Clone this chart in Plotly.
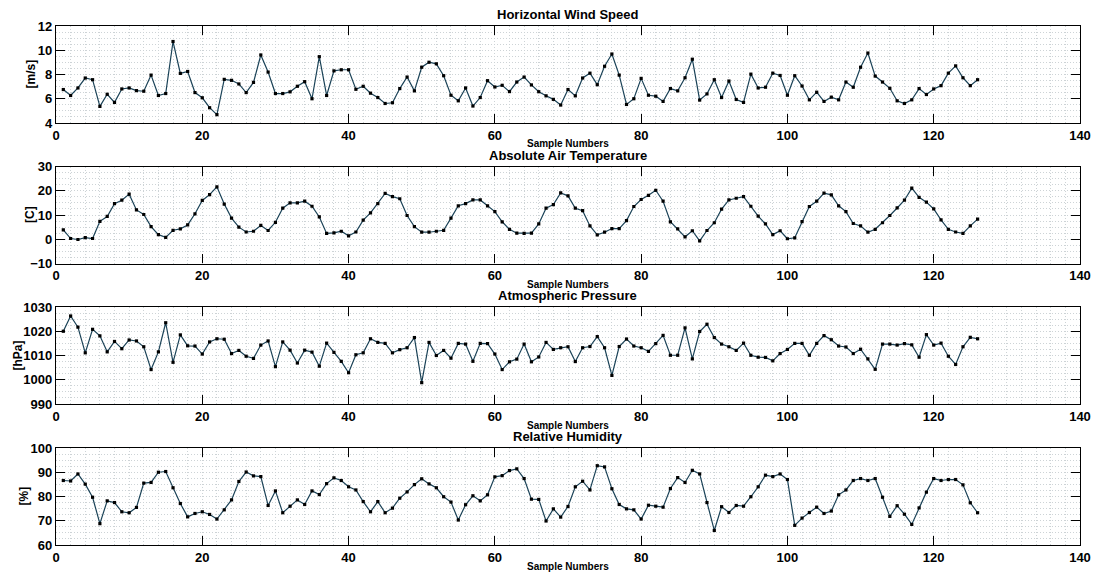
import plotly.graph_objects as go

W, H = 1094, 574

sample = list(range(1, 127))

wind_speed = [
    6.76, 6.27, 6.89, 7.71, 7.57, 5.37, 6.37, 5.70, 6.81, 6.89,
    6.67, 6.62, 7.95, 6.27, 6.43, 10.72, 8.09, 8.25, 6.51, 6.08,
    5.26, 4.69, 7.60, 7.52, 7.22, 6.51, 7.35, 9.61, 8.20, 6.43,
    6.43, 6.57, 7.03, 7.41, 6.00, 9.47, 6.27, 8.30, 8.39, 8.39,
    6.78, 7.03, 6.46, 6.10, 5.61, 5.67, 6.84, 7.79, 6.65, 8.60,
    9.01, 8.88, 7.90, 6.29, 5.83, 6.89, 5.40, 6.10, 7.49, 6.97,
    7.11, 6.59, 7.38, 7.79, 7.14, 6.58, 6.24, 5.95, 5.48, 6.76,
    6.24, 7.71, 8.11, 7.16, 8.68, 9.69, 7.95, 5.53, 6.00, 7.68,
    6.29, 6.21, 5.78, 6.84, 6.65, 7.73, 9.26, 5.89, 6.40, 7.57,
    6.10, 7.46, 5.94, 5.70, 8.03, 6.89, 6.95, 8.11, 7.92, 6.29,
    7.90, 7.05, 5.91, 6.54, 5.78, 6.13, 5.91, 7.38, 6.95, 8.60,
    9.77, 7.87, 7.38, 6.86, 5.83, 5.61, 5.91, 6.84, 6.35, 6.81,
    7.08, 8.11, 8.71, 7.73, 7.08, 7.57,
]

air_temperature = [
    3.9, 0.3, -0.1, 0.7, 0.3, 7.4, 9.4, 14.7, 16.1, 18.6,
    12.1, 10.2, 5.2, 1.9, 0.8, 3.7, 4.3, 5.9, 10.5, 16.0,
    18.4, 21.6, 14.5, 8.7, 5.0, 3.0, 3.3, 5.7, 3.6, 7.0,
    12.8, 15.0, 15.0, 15.7, 13.6, 9.2, 2.4, 2.6, 3.3, 1.4,
    3.0, 7.9, 10.9, 14.7, 18.9, 17.6, 16.7, 9.8, 5.2, 2.9,
    2.9, 3.3, 3.7, 8.7, 13.8, 14.7, 16.2, 16.2, 13.8, 11.4,
    7.2, 4.1, 2.5, 2.4, 2.5, 6.3, 12.8, 14.3, 19.1, 17.9,
    12.8, 11.8, 5.5, 1.8, 2.9, 4.4, 4.4, 7.7, 13.5, 16.4,
    18.1, 20.2, 15.7, 7.2, 4.3, 1.0, 3.5, -0.7, 3.6, 6.8,
    12.4, 16.2, 16.9, 17.6, 13.6, 9.5, 6.3, 1.9, 3.5, 0.2,
    0.6, 7.3, 13.5, 15.7, 19.0, 18.3, 13.8, 11.4, 6.5, 5.5,
    2.9, 4.1, 6.8, 9.8, 12.9, 16.1, 21.1, 17.3, 15.3, 12.5,
    8.0, 4.1, 3.0, 2.4, 5.5, 8.3,
]

pressure = [
    1020.0, 1026.3, 1021.7, 1011.1, 1020.8, 1018.1, 1011.5, 1015.8, 1012.8, 1016.4,
    1016.0, 1013.6, 1004.2, 1011.5, 1023.5, 1007.2, 1018.5, 1014.0, 1013.9, 1010.6,
    1015.6, 1016.9, 1016.7, 1010.8, 1012.1, 1009.7, 1008.8, 1014.3, 1016.0, 1005.4,
    1015.6, 1012.2, 1006.9, 1012.2, 1011.4, 1005.6, 1015.1, 1011.3, 1007.6, 1002.9,
    1010.3, 1011.1, 1016.9, 1015.4, 1015.0, 1011.1, 1012.4, 1013.2, 1017.4, 998.8,
    1015.4, 1010.0, 1012.1, 1008.9, 1015.0, 1014.7, 1007.6, 1015.0, 1014.9, 1010.6,
    1004.2, 1007.4, 1008.5, 1014.7, 1007.4, 1009.4, 1015.4, 1012.5, 1013.2, 1013.6,
    1007.5, 1013.2, 1013.7, 1017.8, 1013.2, 1001.8, 1013.7, 1016.8, 1013.9, 1013.2,
    1011.7, 1014.9, 1018.3, 1010.1, 1010.1, 1021.4, 1008.6, 1019.9, 1022.9, 1017.4,
    1014.7, 1013.6, 1012.1, 1015.1, 1010.1, 1009.3, 1009.2, 1007.8, 1010.8, 1012.5,
    1015.0, 1015.0, 1010.1, 1015.0, 1018.2, 1016.5, 1013.9, 1013.5, 1010.8, 1012.6,
    1008.6, 1004.3, 1014.7, 1014.7, 1014.3, 1014.9, 1014.4, 1009.3, 1018.6, 1014.3,
    1015.1, 1009.7, 1006.3, 1013.6, 1017.5, 1016.9,
]

humidity = [
    86.6, 86.4, 89.3, 85.1, 79.7, 68.8, 78.2, 77.5, 73.7, 73.3,
    75.5, 85.5, 85.8, 90.0, 90.3, 83.6, 77.1, 71.6, 73.0, 73.7,
    72.6, 70.7, 74.5, 78.6, 86.2, 90.1, 88.5, 88.2, 76.3, 82.3,
    73.3, 76.0, 78.6, 76.7, 82.3, 80.8, 85.3, 87.7, 86.6, 84.0,
    82.7, 77.9, 73.7, 77.9, 73.3, 75.2, 79.3, 81.9, 84.9, 87.3,
    85.2, 83.6, 79.9, 77.7, 70.3, 76.6, 80.3, 78.2, 80.7, 88.1,
    88.6, 90.7, 91.4, 87.4, 78.9, 78.8, 69.9, 74.9, 71.5, 75.9,
    84.0, 86.3, 82.7, 92.7, 92.2, 83.2, 76.7, 74.9, 74.5, 70.7,
    76.4, 76.0, 75.6, 83.3, 87.8, 85.8, 90.8, 89.3, 77.5, 66.0,
    75.8, 73.4, 76.3, 76.0, 79.9, 84.0, 88.8, 88.2, 89.3, 87.0,
    68.1, 71.1, 73.4, 75.6, 73.0, 74.0, 80.7, 82.7, 86.6, 87.4,
    86.6, 87.4, 79.7, 71.8, 76.2, 72.7, 68.5, 75.3, 81.8, 87.4,
    86.6, 87.0, 87.0, 84.8, 77.4, 73.3,
]

titles = ["Horizontal Wind Speed", "Absolute Air Temperature",
          "Atmospheric Pressure", "Relative Humidity"]
units = ["[m/s]", "[C]", "[hPa]", "[%]"]
series = [wind_speed, air_temperature, pressure, humidity]
y_ranges = [(4, 12), (-10, 30), (990, 1030), (60, 100)]
y_steps = [2, 10, 10, 10]

x_ticks = list(range(0, 141, 20))

# panel geometry in pixels
left_px, right_px = 56, 1080
panel_tops = [26, 166.5, 307, 448]
panel_h = 97
unit_x_px = [30, 30, 17, 23]

LINE_COLOR = "#1a4257"
GRID_COLOR = "#cdd3d6"
GRID_DASH = "1px,2px"
FONT = "Liberation Sans"


def px_x(p):
    return p / W


def px_y(p):
    return 1 - p / H


fig = go.Figure()
annotations = []

for i in range(4):
    n = i + 1
    xa = "xaxis" if n == 1 else f"xaxis{n}"
    ya = "yaxis" if n == 1 else f"yaxis{n}"
    xr = "x" if n == 1 else f"x{n}"
    yr = "y" if n == 1 else f"y{n}"

    fig.add_trace(go.Scatter(
        x=sample, y=series[i], xaxis=xr, yaxis=yr, mode="lines+markers",
        line=dict(color=LINE_COLOR, width=1.2),
        marker=dict(symbol="square", size=3.2, color="black"),
        showlegend=False, hoverinfo="x+y",
    ))

    top = panel_tops[i]
    bot = top + panel_h
    lo, hi = y_ranges[i]
    step = y_steps[i]

    fig.layout[xa] = dict(
        domain=[px_x(left_px), px_x(right_px)], anchor=yr,
        range=[0, 140], tickvals=x_ticks, ticktext=[str(t) for t in x_ticks],
        ticks="inside", ticklen=9, tickwidth=1.2, tickcolor="black",
        showline=True, linecolor="black", linewidth=1.4, mirror="allticks",
        showgrid=True, gridcolor=GRID_COLOR, griddash=GRID_DASH, gridwidth=1,
        minor=dict(dtick=2, showgrid=True, gridcolor=GRID_COLOR,
                   griddash=GRID_DASH, gridwidth=1),
        zeroline=False, automargin=False,
        tickfont=dict(family=FONT, size=13, color="black", weight="bold"),
    )
    fig.layout[ya] = dict(
        domain=[px_y(bot), px_y(top)], anchor=xr,
        range=[lo, hi], tickvals=list(range(lo, hi + 1, step)),
        ticks="inside", ticklen=9, tickwidth=1.2, tickcolor="black",
        showline=True, linecolor="black", linewidth=1.4, mirror="allticks",
        showgrid=True, gridcolor=GRID_COLOR, griddash=GRID_DASH, gridwidth=1,
        minor=dict(dtick=step / 4, showgrid=True, gridcolor=GRID_COLOR,
                   griddash=GRID_DASH, gridwidth=1),
        zeroline=False, automargin=False,
        tickfont=dict(family=FONT, size=13, color="black", weight="bold"),
    )

    cx = px_x((left_px + right_px) / 2)
    annotations.append(dict(
        text=f"<b>{titles[i]}</b>", x=cx, y=px_y(top - 11.5),
        xref="paper", yref="paper", xanchor="center", yanchor="middle",
        showarrow=False, font=dict(family=FONT, size=13, color="black"),
    ))
    annotations.append(dict(
        text="<b>Sample Numbers</b>", x=cx, y=px_y(bot + 21),
        xref="paper", yref="paper", xanchor="center", yanchor="middle",
        showarrow=False, font=dict(family=FONT, size=10, color="black"),
    ))
    annotations.append(dict(
        text=f"<b>{units[i]}</b>", x=px_x(unit_x_px[i]), y=px_y((top + bot) / 2),
        xref="paper", yref="paper", xanchor="center", yanchor="middle",
        textangle=-90, showarrow=False,
        font=dict(family=FONT, size=12, color="black"),
    ))

fig.update_layout(
    width=W, height=H,
    margin=dict(l=0, r=0, t=0, b=0),
    paper_bgcolor="white", plot_bgcolor="white",
    annotations=annotations,
    font=dict(family=FONT, color="black"),
)

fig.write_html("out.html")
